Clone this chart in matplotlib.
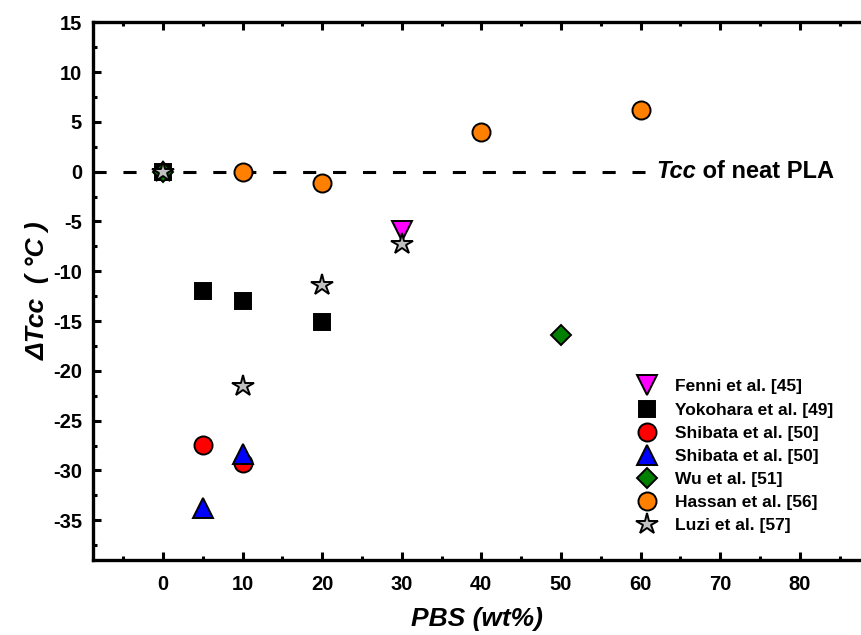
import matplotlib
matplotlib.use("Agg")
import matplotlib.pyplot as plt
from matplotlib.ticker import MultipleLocator

plt.rcParams['font.family'] = ['Liberation Sans', 'DejaVu Sans']
plt.rcParams['font.weight'] = 'bold'
plt.rcParams['axes.unicode_minus'] = False

# data (x = PBS wt%, y = delta Tcc in C)
fenni_x = [30]
fenni_y = [-6.0]
yoko_x = [0, 5, 10, 20]
yoko_y = [0, -12.0, -13.0, -15.1]
shib_red_x = [5, 10]
shib_red_y = [-27.4, -29.3]
shib_blue_x = [5, 10]
shib_blue_y = [-33.8, -28.4]
wu_x = [0, 50]
wu_y = [0, -16.4]
hassan_x = [10, 20, 40, 60]
hassan_y = [0, -1.1, 4.0, 6.2]
luzi_x = [0, 10, 20, 30]
luzi_y = [0, -21.5, -11.4, -7.3]

fig = plt.figure(figsize=(8.61, 6.35), dpi=100)
ax = fig.add_axes([0.108, 0.118, 0.892, 0.847])

# reference line for neat PLA
ax.plot([-8.8, 60.5], [0, 0], color='black', lw=2.2, dashes=(4.3, 5.5), zorder=1)
t1 = ax.text(62, 0, 'Tcc', style='italic', fontsize=17, fontweight='bold', va='center')
ax.annotate(' of neat PLA', xy=(1, 0.5), xycoords=t1, va='center', fontsize=17, fontweight='bold')

ew = 1.4
ax.plot(fenni_x, fenni_y, 'v', ms=14, mfc='#ff00ff', mec='black', mew=ew, ls='none', label='Fenni et al. [45]')
ax.plot(yoko_x, yoko_y, 's', ms=12, mfc='black', mec='black', mew=ew, ls='none', label='Yokohara et al. [49]')
ax.plot(shib_red_x, shib_red_y, 'o', ms=13, mfc='#ff0000', mec='black', mew=ew, ls='none', label='Shibata et al. [50]')
ax.plot(shib_blue_x, shib_blue_y, '^', ms=14.5, mfc='#0000ff', mec='black', mew=ew, ls='none', label='Shibata et al. [50]')
ax.plot(wu_x, wu_y, 'D', ms=10.5, mfc='#008000', mec='black', mew=ew, ls='none', label='Wu et al. [51]')
ax.plot(hassan_x, hassan_y, 'o', ms=13, mfc='#ff8000', mec='black', mew=ew, ls='none', label='Hassan et al. [56]')
ax.plot(luzi_x, luzi_y, '*', ms=16, mfc='#c0c0c0', mec='black', mew=ew, ls='none', label='Luzi et al. [57]')

ax.set_xlim(-8.8, 87.7)
ax.set_ylim(-39, 15)
ax.xaxis.set_major_locator(MultipleLocator(10))
ax.xaxis.set_minor_locator(MultipleLocator(5))
ax.yaxis.set_major_locator(MultipleLocator(5))
ax.yaxis.set_minor_locator(MultipleLocator(2.5))

for s in ['left', 'bottom', 'top']:
    ax.spines[s].set_linewidth(2.4)
ax.spines['right'].set_visible(False)
ax.tick_params(which='both', direction='in', top=True, right=False, width=2.2)
ax.tick_params(which='major', length=6, labelsize=14.5)
ax.tick_params(axis='x', which='major', pad=11)
ax.tick_params(axis='y', which='major', pad=8)
ax.tick_params(which='minor', length=3)
for lab in ax.get_xticklabels() + ax.get_yticklabels():
    lab.set_fontweight('bold')

ax.set_xlabel('PBS (wt%)', fontsize=19, fontweight='bold', style='italic', labelpad=9)
ax.set_ylabel('ΔTcc  ( °C )', fontsize=19, fontweight='bold', style='italic', labelpad=2)

ax.legend(loc='lower left', bbox_to_anchor=(619 / 861, 0.141), bbox_transform=fig.transFigure,
          frameon=False, prop={'weight': 'bold', 'size': 12.5}, handletextpad=0.7,
          labelspacing=0.46, borderpad=0.2, handlelength=1.8)

fig.savefig('out.png', dpi=100)
